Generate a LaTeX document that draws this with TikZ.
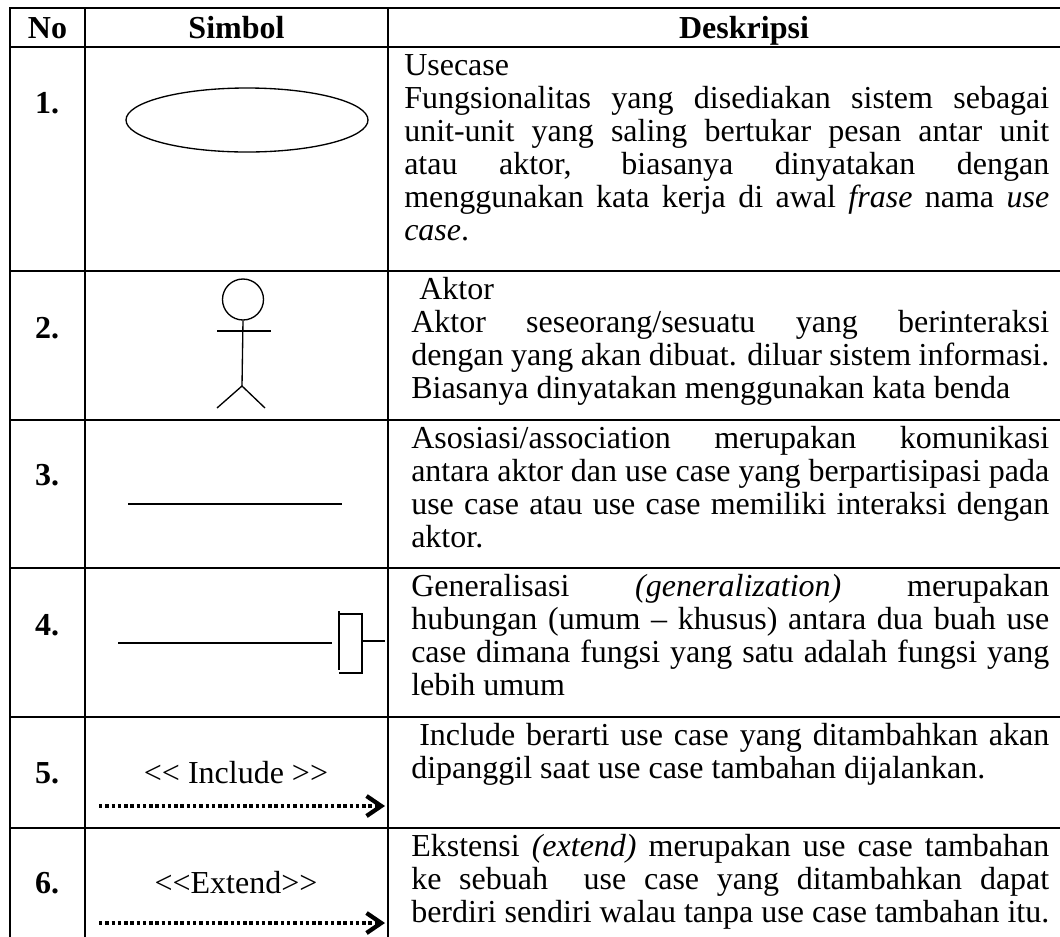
\documentclass[tikz,border=0pt]{standalone}
\usepackage{fontspec}
\setmainfont{Liberation Serif}
\usetikzlibrary{arrows.meta,shapes.geometric}

\newcommand\tabfont{\fontsize{24pt}{24.75pt}\selectfont}
\newlength\dwA \setlength\dwA{483.75pt}
\newlength\dwB \setlength\dwB{478.5pt}
\newlength\dwC \setlength\dwC{472.5pt}
\newcommand\jl[2]{\makebox[#1][s]{#2}}
\hbadness=10000
\hfuzz=20pt

\begin{document}
\begin{tikzpicture}[x=0.75pt,y=-0.75pt,
  grid/.style={line width=1.1pt, line cap=rect},
  sym/.style={line width=1pt},
  hdr/.style={font=\tabfont\bfseries, anchor=base, inner sep=0},
  rowno/.style={font=\tabfont\bfseries, anchor=base, inner sep=0},
  lbl/.style={font=\tabfont, anchor=base, inner sep=0},
  desc/.style={font=\tabfont, anchor=base west, inner sep=0},
  dotarrow/.style={line width=3pt, dash pattern=on 2.6pt off 2.1pt,
    -{Straight Barb[length=11pt,width=15pt,line width=3.2pt]}}]
\useasboundingbox (0,0) rectangle (1060,936);

% table rules
\foreach \y in {8,47,271,420,568,717,828} \draw[grid] (10,\y) -- (1060,\y);
\foreach \x in {10,85,388} \draw[grid] (\x,8) -- (\x,936);

% header
\node[hdr] (hNo) at (47.5,38) {No};
\node[hdr] (hSym) at (236.5,38) {Simbol};
\node[hdr] (hDesc) at (744,38) {Deskripsi};

% row numbers
\node[rowno] (n1) at (47,113) {1.};
\node[rowno] (n2) at (47,338) {2.};
\node[rowno] (n3) at (47,485) {3.};
\node[rowno] (n4) at (47,635) {4.};
\node[rowno] (n5) at (47,783) {5.};
\node[rowno] (n6) at (47,893) {6.};

% descriptions
\node[desc] (d1) at (404,75) {\parbox[t]{\dwA}{Usecase\\
\jl{\dwA}{Fungsionalitas yang disediakan sistem sebagai}\\
\jl{\dwA}{unit-unit yang saling bertukar pesan antar unit}\\
\jl{\dwA}{atau aktor, biasanya dinyatakan dengan}\\
\jl{\dwA}{menggunakan kata kerja di awal \textit{frase} nama \textit{use}}\\
\textit{case}.}};

\node[desc] (d2) at (411,299) {\parbox[t]{\dwB}{\hspace*{6pt}Aktor\\
\jl{\dwB}{Aktor seseorang/sesuatu yang berinteraksi}\\
\jl{\dwB}{dengan yang akan dibuat. diluar sistem informasi.}\\
Biasanya dinyatakan menggunakan kata benda}};

\node[desc] (d3) at (411,448) {\parbox[t]{\dwB}{%
\jl{\dwB}{Asosiasi/association merupakan komunikasi}\\
\jl{\dwB}{antara aktor dan use case yang berpartisipasi pada}\\
\jl{\dwB}{use case atau use case memiliki interaksi dengan}\\
aktor.}};

\node[desc] (d4) at (411,596) {\parbox[t]{\dwB}{%
\jl{\dwB}{Generalisasi \textit{(generalization)} merupakan}\\
\jl{\dwB}{hubungan (umum – khusus) antara dua buah use}\\
\jl{\dwB}{case dimana fungsi yang satu adalah fungsi yang}\\
lebih umum}};

\node[desc] (d5) at (411,745) {\parbox[t]{\dwB}{%
\hspace*{6pt}\jl{\dwC}{Include berarti use case yang ditambahkan akan}\\
dipanggil saat use case tambahan dijalankan.}};

\node[desc] (d6) at (411,856) {\parbox[t]{\dwB}{%
\jl{\dwB}{Ekstensi \textit{(extend)} merupakan use case tambahan}\\
\jl{\dwB}{ke sebuah\ \ use case yang ditambahkan dapat}\\
berdiri sendiri walau tanpa use case tambahan itu.}};

% 1. use case
\node[draw, ellipse, sym, minimum width=181.5pt, minimum height=48pt, inner sep=0] (uc) at (247,120) {};

% 2. actor
\node[draw, circle, sym, minimum size=30.75pt, inner sep=0] (actorhead) at (243,299.5) {};
\coordinate (hip) at (242,386);
\coordinate (armL) at (217,331);
\coordinate (armR) at (271,331);
\coordinate (footL) at (217,408);
\coordinate (footR) at (265,408);
\draw[sym] (actorhead.south) -- (hip);
\draw[sym] (armL) -- (armR);
\draw[sym] (footL) -- (hip) -- (footR);

% 3. association
\coordinate (asA) at (128,504);
\coordinate (asB) at (342,504);
\draw[sym] (asA) -- (asB);

% 4. generalization
\coordinate (genA) at (118,643);
\coordinate (genB) at (332,643);
\draw[sym] (genA) -- (genB);
\draw[sym] (339,611) -- (339,670);
\draw[sym] (339,614) -- (362,614) -- (362,673) -- (339,673);
\draw[sym] (362,641) -- (385,641);

% 5. include
\node[lbl] (incl) at (236,783) {<\kern0pt< Include >\kern0pt>};
\coordinate (incA) at (99,806);
\coordinate (incB) at (385,806);
\draw[dotarrow] (incA) -- (incB);

% 6. extend
\node[lbl] (ext) at (236,893) {<\kern0pt<Extend>\kern0pt>};
\coordinate (extA) at (99,923);
\coordinate (extB) at (385,923);
\draw[dotarrow] (extA) -- (extB);
\end{tikzpicture}
\end{document}
